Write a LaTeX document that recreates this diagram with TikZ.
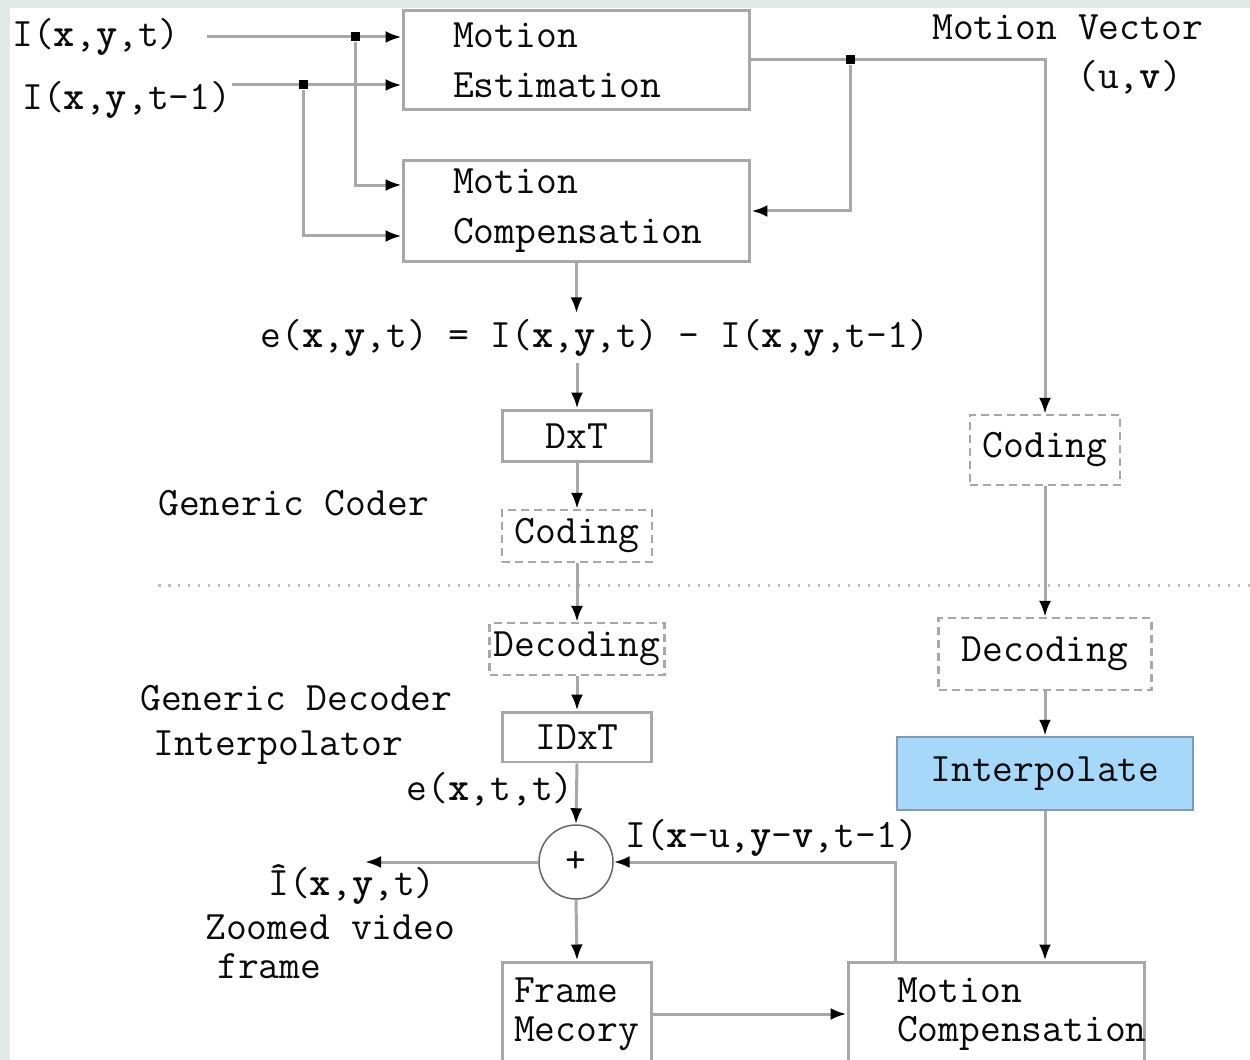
\documentclass[tikz,border=0pt]{standalone}
\usepackage{fontspec}
\usetikzlibrary{arrows.meta}
\definecolor{bordergray}{RGB}{226,234,231}
\definecolor{linegray}{RGB}{168,168,168}
\definecolor{dotgray}{RGB}{190,190,190}
\definecolor{interpblue}{RGB}{166,216,250}
\definecolor{interpedge}{RGB}{125,155,180}
\definecolor{inkblack}{RGB}{10,10,10}
\newcommand{\vx}{\textbf{x}}
\newcommand{\vy}{\textbf{y}}
\newcommand{\vv}{\textbf{v}}
\begin{document}
\begin{tikzpicture}[
    x=0.02cm, y=-0.02cm, % one unit = one pixel of the reference
    font=\ttfamily\fontsize{23}{28.4}\selectfont, text=inkblack,
    line/.style={draw=linegray, line width=0.06cm},
    arr/.style={line, -{Latex[length=0.32cm, width=0.24cm, color=black]}},
    block/.style={draw=linegray, line width=0.06cm, fill=white, inner xsep=0pt, align=left},
    unit/.style={draw=linegray, line width=0.06cm, fill=white, minimum width=3cm, minimum height=1.04cm},
    codec/.style={draw=linegray, line width=0.045cm, dash pattern=on 0.16cm off 0.1cm, fill=white, inner sep=0pt},
    junc/.style={fill=black, minimum size=0.18cm, inner sep=0pt},
    lbl/.style={inner sep=0pt, anchor=west}
]

% page frame
\useasboundingbox (0,0) rectangle (1250,1060);
\fill[bordergray] (0,0) rectangle (1250,1060);
\fill[white] (10,8) rectangle (1250,1060);

% Coder: motion estimation and compensation
\node[block, text width=6.94cm, minimum height=2cm] (me) at (576.5,60)
    {\hspace*{1cm}Motion\\\hspace*{1cm}Estimation};
\node[block, text width=6.94cm, minimum height=2.04cm] (mc1) at (576.5,211)
    {\hspace*{1cm}Motion\\\hspace*{1cm}Compensation};

% Coder: transform and coding
\node (eq) at (595,338) {e(\vx,\vy,t) = I(\vx,\vy,t) - I(\vx,\vy,t-1)};
\node[unit] (dxt) at (577,436) {DxT};
\node[codec, minimum width=3cm, minimum height=1.04cm] (cod1) at (577,536) {Coding};
\node[codec, minimum width=3cm, minimum height=1.4cm] (cod2) at (1045,450) {Coding};

% Decoder: decoding and inverse transform
\node[codec, minimum width=3.5cm, minimum height=1.04cm] (dec1) at (577,649) {Decoding};
\node[codec, minimum width=4.26cm, minimum height=1.44cm] (dec2) at (1045,654) {Decoding};
\node[unit, minimum height=1cm] (idxt) at (577,737) {IDxT};
\node[draw=interpedge, line width=0.05cm, fill=interpblue, minimum width=5.92cm, minimum height=1.46cm] (interp) at (1045,773.5) {Interpolate};
\node[circle, draw=black!60, line width=0.03cm, fill=white, minimum size=1.48cm, inner sep=0pt] (sum) at (576,862) {+};

% Decoder: frame memory and motion compensation
\node[block, font=\ttfamily\fontsize{23}{22.2}\selectfont, text width=3cm, minimum height=2.08cm] (fm) at (577,1014)
    {\hspace*{0.24cm}Frame\\\hspace*{0.24cm}Mecory};
\node[block, font=\ttfamily\fontsize{23}{22.2}\selectfont, text width=5.94cm, minimum height=2.08cm] (mc2) at (996.5,1014)
    {\hspace*{0.98cm}Motion\\\hspace*{0.98cm}Compensation};

% free ends and junctions
\coordinate (in1) at (207,37);
\coordinate (in2) at (232,85);
\coordinate (out) at (365,862);
\node[junc] (j1) at (355,37) {};
\node[junc] (j2) at (303,85) {};
\node[junc] (j3) at (850,60) {};

% labels
\node[lbl] (lin1) at (12,37) {I(\vx,\vy,t)};
\node[lbl] (lin2) at (22,100) {I(\vx,\vy,t-1)};
\node[lbl] (lmv) at (932,27) {Motion Vector};
\node[lbl] (luv) at (1077,77) {(u,\vv)};
\node[lbl] (lcoder) at (158,503) {Generic Coder};
\node[lbl] (ldecoder) at (140,698) {Generic Decoder};
\node[lbl] (linterp) at (153,748) {Interpolator};
\node[inner sep=0pt, anchor=east] (lerr) at (574,789) {e(\vx,t,t)};
\node[lbl] (lpred) at (625,838) {I(\vx-u,\vy-\vv,t-1)};
\node[lbl] (lhat) at (268,884) {\^{I}(\vx,\vy,t)};
\node[lbl, align=left, font=\ttfamily\fontsize{23}{22.5}\selectfont] (lzoom) at (205,947)
    {Zoomed video\\\hspace*{0.24cm}frame};

% coder / decoder separator
\draw[dotgray, line width=0.06cm, dash pattern=on 0.05cm off 0.15cm] (158,585) -- (1250,585);

% inputs
\draw[arr] (in1) -- (in1 -| me.west);
\draw[arr] (in2) -- (in2 -| me.west);
\draw[arr] (j1) |- ([yshift=0.52cm]mc1.west);
\draw[arr] (j2) |- ([yshift=-0.5cm]mc1.west);

% motion vector
\draw[arr] (me.east) -| (cod2.north);
\draw[arr] (j3) |- (mc1.east);

% residual path
\draw[arr] (mc1.south) -- (mc1.south |- eq.north);
\draw[arr] (eq.south -| dxt.north) -- (dxt.north);
\draw[arr] (dxt.south) -- (cod1.north);
\draw[arr] (cod1.south) -- (dec1.north);
\draw[arr] (dec1.south) -- (idxt.north);
\draw[arr] (idxt.south) -- (sum.north);
\draw[arr] (sum.west) -- (out);
\draw[arr] (sum.south) -- (fm.north);
\draw[arr] (fm.east) -- (fm.east -| mc2.west);

% motion vector decoding
\draw[arr] (cod2.south) -- (dec2.north);
\draw[arr] (dec2.south) -- (interp.north);
\draw[arr] (interp.south) -- (interp.south |- mc2.north);
\draw[arr] ([xshift=0.98cm]mc2.north west) |- (sum.east);

% junctions on top
\node[junc] at (j1) {};
\node[junc] at (j2) {};
\node[junc] at (j3) {};

\end{tikzpicture}
\end{document}
